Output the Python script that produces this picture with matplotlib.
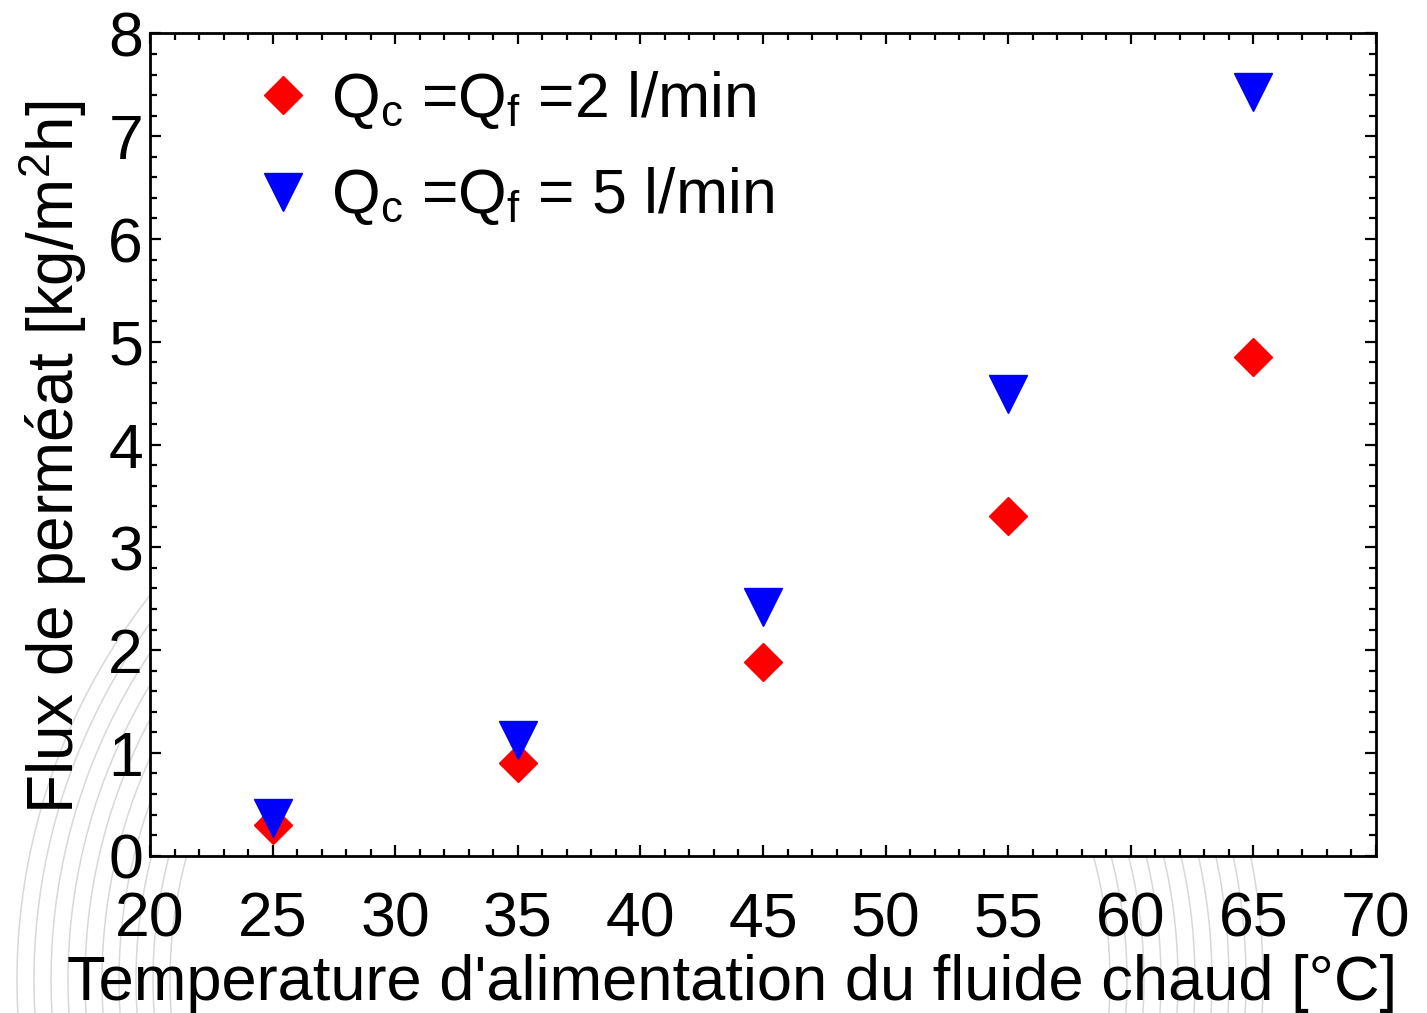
import numpy as np
import matplotlib.pyplot as plt
from matplotlib.ticker import MultipleLocator

plt.rcParams['font.family'] = ['Liberation Sans', 'DejaVu Sans']
plt.rcParams['mathtext.fontset'] = 'custom'
plt.rcParams['mathtext.rm'] = 'Liberation Sans'
plt.rcParams['mathtext.it'] = 'Liberation Sans'

temperature = [25, 35, 45, 55, 65]
flux_2lmin = [0.30, 0.90, 1.88, 3.31, 4.85]
flux_5lmin = [0.37, 1.13, 2.42, 4.49, 7.43]

label_2 = r'Q$_\mathrm{c}$ =Q$_\mathrm{f}$ =2 l/min'
label_5 = r'Q$_\mathrm{c}$ =Q$_\mathrm{f}$ = 5 l/min'

fig = plt.figure(figsize=(14.27, 10.13), dpi=100)

# faint swirl watermark behind the plot
bg = fig.add_axes([0, 0, 1, 1], zorder=-1)
bg.set_xlim(0, 1427)
bg.set_ylim(1013, 0)
bg.axis('off')
t = np.linspace(0, 2 * np.pi, 800)
for r in np.arange(470, 640, 17):
    bg.plot(640 + r * np.cos(t), 980 + r * np.sin(t), color='#c4c8ce', lw=1.1, alpha=0.7)
for r in np.arange(300, 420, 25):
    bg.plot(1800 + r * np.cos(t), 1250 + r * np.sin(t), color='#c4c8ce', lw=1.1, alpha=0.6)

ax = fig.add_axes([150 / 1427, 1 - 855.7 / 1013, (1376 - 150) / 1427, (855.7 - 33.5) / 1013])
ax.set_facecolor('white')

ax.plot(temperature, flux_2lmin, linestyle='none', marker='D', ms=19.5, color='red',
        mec='red', label=label_2, zorder=3)
ax.plot(temperature, flux_5lmin, linestyle='none', marker='v', ms=28, color='blue',
        mec='blue', label=label_5, zorder=4)

ax.set_xlim(20, 70)
ax.set_ylim(0, 8)
ax.xaxis.set_major_locator(MultipleLocator(5))
ax.xaxis.set_minor_locator(MultipleLocator(1))
ax.yaxis.set_major_locator(MultipleLocator(1))
ax.yaxis.set_minor_locator(MultipleLocator(0.2))

ax.tick_params(which='both', direction='in', top=True, right=True, width=1.6, colors='black')
ax.tick_params(which='major', length=8)
ax.tick_params(which='minor', length=5)
ax.tick_params(axis='x', which='major', labelsize=45, pad=25)
ax.tick_params(axis='y', which='major', labelsize=45, pad=5)
for s in ax.spines.values():
    s.set_linewidth(2)

ax.set_xlabel("Temperature d'alimentation du fluide chaud [°C]", fontsize=45.5)
ax.xaxis.set_label_coords(0.475, -0.119)
ax.set_ylabel(r'Flux de perméat [kg/m$^\mathrm{2}$h]', fontsize=46, labelpad=14)
ax.yaxis.label.set_y(0.485)

ax.legend(loc='upper left', frameon=False, fontsize=45, handletextpad=0.28,
          borderaxespad=0.3, bbox_to_anchor=(0.047, 1.01), labelspacing=0.55,
          handlelength=1.0)

fig.savefig('out.png', dpi=100)
